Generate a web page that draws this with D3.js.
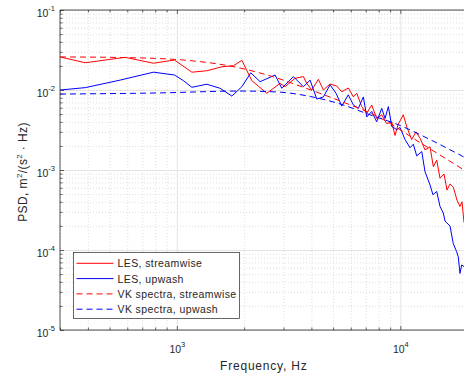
<!DOCTYPE html>
<html lang="en">
<head>
<meta charset="utf-8" />
<style>
    body { margin: 0; background: #fff; }
    text { font-family: "Liberation Sans", Arial, sans-serif; fill: #262626; }
    .domain { display: none; }
    .grid line { stroke: #e3e3e3; stroke-width: 1px; }
    .minorgrid line { stroke: #d6d6d6; stroke-width: 0.8px; stroke-dasharray: 1, 2; }
    .ticks line { stroke: #262626; stroke-width: 0.7px; }
    .frame { fill: none; stroke: #262626; stroke-width: 0.8px; }
    .series { fill: none; stroke-width: 1px; }
    .legend-box { fill: #fff; stroke: #262626; stroke-width: 0.7px; }
</style>
</head>
<body>
<svg width="464" height="381"></svg>
<script src="https://cdn.jsdelivr.net/npm/d3@7"></script>
<script>

    // LES, streamwise
    var lesStreamFreq = [300, 389, 587, 786, 976, 1167, 1362, 1590, 1792, 1954, 2165, 2527, 2897, 3050, 3381,
        3683, 3812, 4016, 4297, 4527, 4849, 5195, 5470, 5851, 6166, 6383, 6719, 7074, 7447, 7839, 8254,
        8690, 9153, 9470, 9770, 10310, 10710, 11240, 11750, 12250, 12900, 13580, 14050, 14550, 15050,
        15690, 16180, 16680, 17260, 17930, 18490, 18880, 19280];
    var lesStream = [0.0259, 0.0219, 0.0256, 0.0216, 0.0237, 0.0167, 0.0174, 0.0195, 0.0201, 0.0235, 0.0131,
        0.0091, 0.0121, 0.0110, 0.0140, 0.0147, 0.0121, 0.0100, 0.0136, 0.0100, 0.0119, 0.0112, 0.0095,
        0.0106, 0.0082, 0.0091, 0.0062, 0.0051, 0.0065, 0.0044, 0.0049, 0.0038, 0.0040, 0.0027, 0.0037,
        0.0049, 0.0034, 0.0024, 0.0030, 0.0025, 0.00178, 0.00195, 0.0011, 0.00133, 0.00079, 0.00089,
        0.00056, 0.00067, 0.00061, 0.00042, 0.00035, 0.00040, 0.00022];

    // LES, upwash
    var lesUpFreq = [300, 389, 558, 786, 976, 1070, 1167, 1362, 1562, 1762, 1954, 2142, 2358, 2752, 2949,
        3323, 3683, 3946, 4228, 4527, 4849, 5158, 5470, 5851, 6166, 6488, 6833, 7074, 7447, 7839, 8254,
        8543, 8840, 9153, 9640, 9970, 10500, 11050, 11430, 11840, 12470, 12900, 13580, 14000, 14550,
        15050, 15570, 15850, 16680, 17260, 17870, 18170, 18490, 18820, 19280];
    var lesUp = [0.0100, 0.0107, 0.0133, 0.0167, 0.0154, 0.0131, 0.0108, 0.0118, 0.0105, 0.0084, 0.0110,
        0.0164, 0.0127, 0.0154, 0.0105, 0.0147, 0.0110, 0.0133, 0.0077, 0.0082, 0.0116, 0.0091, 0.0063,
        0.0087, 0.0065, 0.0059, 0.0082, 0.0046, 0.0054, 0.0040, 0.0059, 0.0044, 0.0062, 0.0035, 0.0032,
        0.0034, 0.0024, 0.0019, 0.0021, 0.0015, 0.0017, 0.00095, 0.00065, 0.00049, 0.00054, 0.00035,
        0.00029, 0.00023, 0.00020, 0.00012, 0.000095, 0.000082, 0.000051, 0.000065, 0.000062];

    // VK spectra
    var vkStreamFreq = [300, 557, 1067, 1919, 2810, 3555, 5370, 8110, 12250, 19280];
    var vkStream = [0.0259, 0.0255, 0.0237, 0.0188, 0.0141, 0.0112, 0.0073, 0.0045, 0.0022, 0.0010];
    var vkUpFreq = [300, 841, 1919, 2897, 3948, 5370, 7310, 9980, 13590, 19280];
    var vkUp = [0.0089, 0.0092, 0.0097, 0.0094, 0.0083, 0.0067, 0.0049, 0.0036, 0.0024, 0.00145];

    var xMajor = [1e3, 1e4];
    var yMajor = [1e-5, 1e-4, 1e-3, 1e-2, 1e-1];
    var legendLabels = ["LES, streamwise", "LES, upwash", "VK spectra, streamwise", "VK spectra, upwash"];

    var pL = 60, pR = 467.6, pT = 10, pB = 330;

    var x = d3.scaleLog().domain([300, 20000]).range([pL, pR]);
    var y = d3.scaleLog().domain([1e-5, 1e-1]).range([pB, pT]);

    var xMinor = [], yMinor = [];
    [100, 1000, 10000].forEach(function(d) {
        for (var k = 2; k <= 9; k++) {
            var v = d * k;
            if (v >= 300 && v <= 20000) xMinor.push(v);
        }
    });
    yMajor.slice(0, 4).forEach(function(d) {
        for (var k = 2; k <= 9; k++) yMinor.push(d * k);
    });

    var svg = d3.select("svg");

    // grid
    svg.append("g").attr("class", "minorgrid").attr("transform", "translate(0," + pB + ")")
        .call(d3.axisBottom(x).tickValues(xMinor).tickSize(-(pB - pT)).tickFormat(""));
    svg.append("g").attr("class", "minorgrid").attr("transform", "translate(" + pL + ",0)")
        .call(d3.axisLeft(y).tickValues(yMinor).tickSize(-(pR - pL)).tickFormat(""));
    svg.append("g").attr("class", "grid").attr("transform", "translate(0," + pB + ")")
        .call(d3.axisBottom(x).tickValues(xMajor).tickSize(-(pB - pT)).tickFormat(""));
    svg.append("g").attr("class", "grid").attr("transform", "translate(" + pL + ",0)")
        .call(d3.axisLeft(y).tickValues(yMajor).tickSize(-(pR - pL)).tickFormat(""));

    // series
    var line = d3.line()
        .x(function(d) { return x(d[0]); })
        .y(function(d) { return y(d[1]); });
    var smooth = d3.line()
        .x(function(d) { return x(d[0]); })
        .y(function(d) { return y(d[1]); })
        .curve(d3.curveMonotoneX);

    var series = [
        { f: lesStreamFreq, v: lesStream, color: "#ff0000", dash: null, gen: line },
        { f: lesUpFreq, v: lesUp, color: "#0000ff", dash: null, gen: line },
        { f: vkStreamFreq, v: vkStream, color: "#ff0000", dash: "6,4", gen: smooth },
        { f: vkUpFreq, v: vkUp, color: "#0000ff", dash: "6,4", gen: smooth }
    ];

    svg.selectAll(".series")
        .data(series)
        .enter()
        .append("path")
        .attr("class", "series")
        .attr("stroke", function(s) { return s.color; })
        .attr("stroke-dasharray", function(s) { return s.dash; })
        .attr("d", function(s) { return s.gen(d3.zip(s.f, s.v)); });

    // ticks (inside, MATLAB style)
    function ticks(axis, tr) {
        return svg.append("g").attr("class", "ticks").attr("transform", tr).call(axis);
    }
    ticks(d3.axisBottom(x).tickValues(xMinor).tickSizeInner(-2.5).tickSizeOuter(0).tickFormat(""), "translate(0," + pB + ")");
    ticks(d3.axisTop(x).tickValues(xMinor).tickSizeInner(-2.5).tickSizeOuter(0).tickFormat(""), "translate(0," + pT + ")");
    ticks(d3.axisLeft(y).tickValues(yMinor).tickSizeInner(-2.5).tickSizeOuter(0).tickFormat(""), "translate(" + pL + ",0)");
    ticks(d3.axisTop(x).tickValues(xMajor).tickSizeInner(-4).tickSizeOuter(0).tickFormat(""), "translate(0," + pT + ")");

    var xAxis = ticks(d3.axisBottom(x).tickValues(xMajor).tickSizeInner(-4).tickSizeOuter(0).tickFormat(""), "translate(0," + pB + ")");
    var yAxis = ticks(d3.axisLeft(y).tickValues(yMajor).tickSizeInner(-4).tickSizeOuter(0).tickFormat(""), "translate(" + pL + ",0)");

    function power(sel, d) {
        sel.text(null);
        sel.append("tspan").text("10");
        sel.append("tspan").attr("dy", -6).style("font-size", "7.5px").text(Math.round(Math.log10(d)));
    }

    xAxis.selectAll(".tick text")
        .attr("y", 23).attr("dy", 0)
        .style("font-size", "10.5px")
        .attr("text-anchor", "middle")
        .each(function(d) { power(d3.select(this), d); });

    yAxis.selectAll(".tick text")
        .attr("x", -5).attr("dy", 6.5)
        .style("font-size", "10.5px")
        .attr("text-anchor", "end")
        .each(function(d) { power(d3.select(this), d); });

    // frame
    svg.append("path").attr("class", "frame")
        .attr("d", "M" + pR + "," + pT + "H" + pL + "V" + pB + "H" + pR);

    // axis titles
    svg.append("text")
        .attr("x", (pL + pR) / 2)
        .attr("y", 370)
        .attr("text-anchor", "middle")
        .style("font-size", "12px")
        .style("letter-spacing", "0.8px")
        .text("Frequency, Hz");

    var yt = svg.append("text")
        .attr("transform", "translate(26.5,172) rotate(-90)")
        .attr("text-anchor", "middle")
        .style("font-size", "12px")
        .style("letter-spacing", "0.4px");
    yt.append("tspan").text("PSD, m");
    yt.append("tspan").attr("dy", -5).style("font-size", "8px").text("2");
    yt.append("tspan").attr("dy", 5).text("/(s");
    yt.append("tspan").attr("dy", -5).style("font-size", "8px").text("2");
    yt.append("tspan").attr("dy", 5).text(" \u00B7 Hz)");

    // legend
    var lg = svg.append("g").attr("transform", "translate(73.5,252.5)");
    lg.append("rect").attr("class", "legend-box").attr("width", 166).attr("height", 66);
    var row = lg.selectAll(".row")
        .data(series)
        .enter()
        .append("g")
        .attr("transform", function(s, i) { return "translate(0," + (10.8 + i * 15.3) + ")"; });
    row.append("line")
        .attr("x1", 3).attr("x2", 40)
        .attr("stroke", function(s) { return s.color; })
        .attr("stroke-dasharray", function(s) { return s.dash; })
        .attr("stroke-width", 1);
    row.append("text")
        .attr("x", 44).attr("dy", 4)
        .style("font-size", "10.5px")
        .style("letter-spacing", "0.4px")
        .text(function(s, i) { return legendLabels[i]; });

</script>
</body>
</html>
